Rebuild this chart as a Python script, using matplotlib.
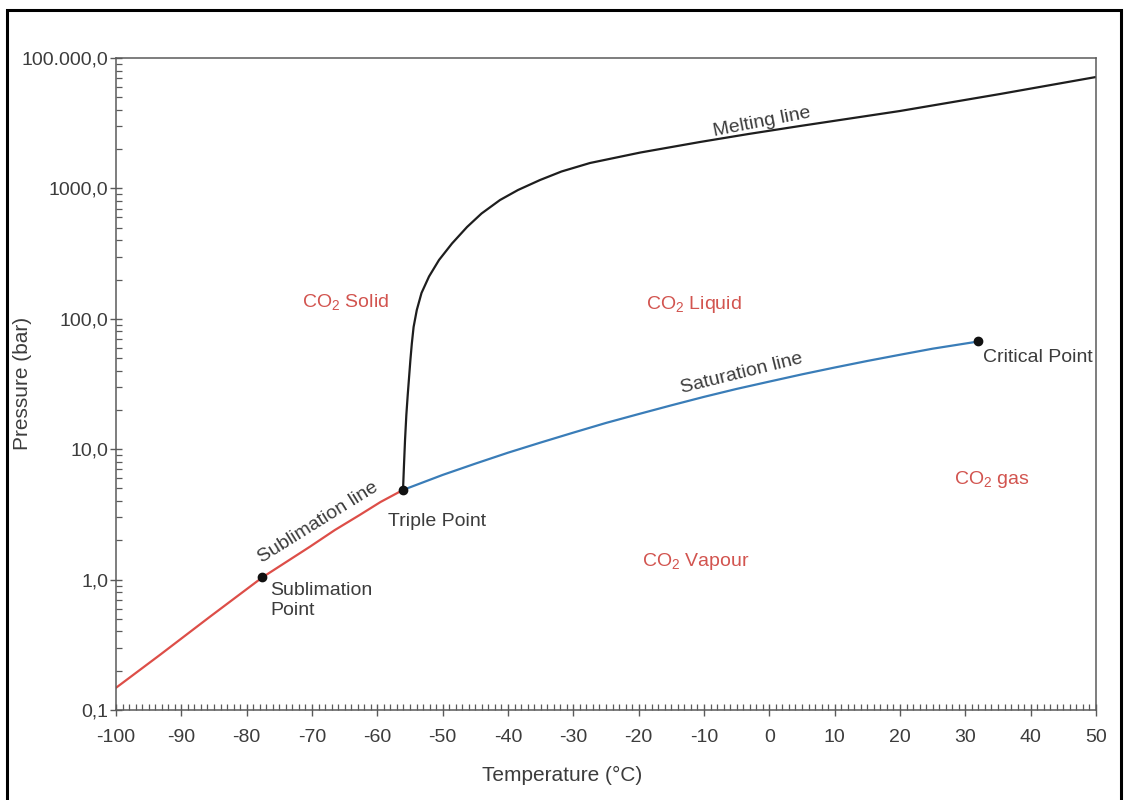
import numpy as np
import matplotlib
matplotlib.use('Agg')
import matplotlib.pyplot as plt
from matplotlib.ticker import FixedLocator, MultipleLocator, LogLocator, NullFormatter
from matplotlib.patches import Rectangle

# CO2 phase boundaries (temperature in degC, pressure in bar)
sub_t = [-100, -93.3, -85.6, -77.6, -70.3, -66.5, -62.7, -59.5, -56.07]
sub_p = [0.148, 0.264, 0.52, 1.04, 1.79, 2.4, 3.13, 3.94, 4.87]

sat_t = [-56.07, -50, -45, -40, -35, -30, -25, -20, -15, -10, -5, 0, 5, 10, 15, 20, 25, 32]
sat_p = [4.87, 6.35, 7.75, 9.4, 11.25, 13.4, 15.9, 18.6, 21.7, 25.2, 29, 33, 37.5, 42.3, 47.5, 53, 59, 67]

melt_t = [-56.07, -55.92, -55.76, -55.56, -55.35, -55.15, -54.94, -54.72, -54.45,
          -53.96, -53.24, -52.09, -50.56, -48.57, -46.27, -44.05, -41.22, -38.47,
          -35.10, -31.81, -27.45, -19.72, -10.61, -3.18, 4.70, 20.0, 35.31, 50.0]
melt_p = [4.87, 7.56, 11.77, 18.3, 26.0, 35.2, 48.3, 64.6, 86.5,
          116.8, 157.7, 211.0, 282.4, 378.1, 505.8, 642.0, 814.7, 972.0,
          1159.5, 1347.8, 1566, 1885, 2269, 2614, 3010, 3923, 5294, 7149]

# labelled points
triple = (-56.07, 4.87)
sublimation_pt = (-77.6, 1.04)
critical = (32, 67)

ytick_vals = [0.1, 1, 10, 100, 1000, 10000]
ytick_labels = ['0,1', '1,0', '10,0', '100,0', '1000,0', '100.000,0']
xtick_vals = list(range(-100, 51, 10))

plt.rcParams['font.family'] = ['Liberation Sans', 'DejaVu Sans']
plt.rcParams['mathtext.default'] = 'regular'

txt = '#3c3c3c'
red_txt = '#d2544f'
axc = '#5a5a5a'
fs = 14

fig = plt.figure(figsize=(11.26, 8), dpi=100)
ax = fig.add_axes([116/1126, 1 - 710/800, (1096 - 116)/1126, (710 - 58)/800])

ax.plot(sub_t, sub_p, color='#dd4e48', lw=1.6, solid_capstyle='round')
ax.plot(sat_t, sat_p, color='#3a7db8', lw=1.6, solid_capstyle='round')
ax.plot(melt_t, melt_p, color='#1e1e1e', lw=1.6, solid_capstyle='round',
        solid_joinstyle='round')
for p in (triple, sublimation_pt, critical):
    ax.plot(*p, 'o', color='#111111', ms=6, zorder=5)

ax.set_yscale('log')
ax.set_xlim(-100, 50)
ax.set_ylim(0.1, 10000)

ax.yaxis.set_major_locator(FixedLocator(ytick_vals))
ax.set_yticklabels(ytick_labels)
ax.yaxis.set_minor_locator(LogLocator(base=10, subs=np.arange(2, 10)))
ax.yaxis.set_minor_formatter(NullFormatter())
ax.set_xticks(xtick_vals)
ax.set_xticklabels([str(v) for v in xtick_vals])
ax.xaxis.set_minor_locator(MultipleLocator(1))

ax.tick_params(which='major', direction='inout', length=9, width=1, color=axc,
               labelsize=fs, labelcolor=txt)
ax.tick_params(which='minor', direction='in', length=4.5, width=0.9, color=axc)
ax.tick_params(axis='x', which='major', pad=9)
ax.tick_params(axis='y', which='major', pad=1)

for s in ax.spines.values():
    s.set_color(axc)
    s.set_linewidth(1.1)

# axis titles
fig.text(562/1126, 1 - 775/800, 'Temperature (°C)', fontsize=15, color=txt,
         ha='center', va='center')
fig.text(22/1126, 1 - 383/800, 'Pressure (bar)', fontsize=15, color=txt,
         ha='center', va='center', rotation=90)

# line and point annotations
ax.text(-69.1, 2.72, 'Sublimation line', rotation=32, ha='center', va='center',
        fontsize=fs, color=txt, rotation_mode='anchor')
ax.text(-76.4, 0.96, 'Sublimation\nPoint', ha='left', va='top', fontsize=fs,
        color=txt, linespacing=1.25)
ax.text(-58.4, 2.81, 'Triple Point', ha='left', va='center', fontsize=fs, color=txt)
ax.text(-4.2, 38.4, 'Saturation line', rotation=14, ha='center', va='center',
        fontsize=fs, color=txt, rotation_mode='anchor')
ax.text(-1.1, 3230, 'Melting line', rotation=11, ha='center', va='center',
        fontsize=fs, color=txt, rotation_mode='anchor')
ax.text(32.7, 50.9, 'Critical Point', ha='left', va='center', fontsize=fs, color=txt)

# phase regions
ax.text(-64.9, 134.6, 'CO$_2$ Solid', ha='center', va='center', fontsize=fs, color=red_txt)
ax.text(-11.5, 127.6, 'CO$_2$ Liquid', ha='center', va='center', fontsize=fs, color=red_txt)
ax.text(-11.2, 1.365, 'CO$_2$ Vapour', ha='center', va='center', fontsize=fs, color=red_txt)
ax.text(34.1, 5.9, 'CO$_2$ gas', ha='center', va='center', fontsize=fs, color=red_txt)

# outer frame round the figure
fig.patches.append(Rectangle((7/1126, -0.02), (1121 - 7)/1126, 1.02 - 10/800,
                             transform=fig.transFigure, fill=False,
                             edgecolor='black', lw=2.2))

fig.savefig('out.png', dpi=100)
